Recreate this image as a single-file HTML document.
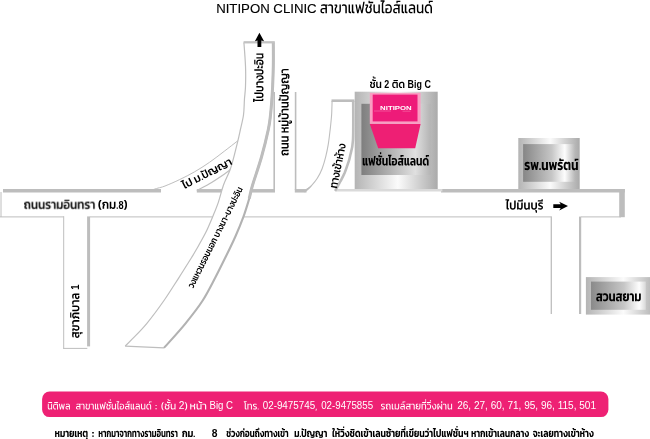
<!DOCTYPE html>
<html lang="th"><head><meta charset="utf-8"><title>NITIPON CLINIC สาขาแฟชั่นไอส์แลนด์</title>
<style>
html,body{margin:0;padding:0;background:#fff}
body{width:650px;height:439px;overflow:hidden}
svg{display:block;filter:blur(.35px)}
svg text{font-family:"Liberation Sans",sans-serif}
</style></head><body>
<svg width="650" height="439" viewBox="0 0 650 439">
<defs>
<linearGradient id="so" x1="0" x2="1" y1="0" y2="0"><stop offset="0" stop-color="#b4b4b4"/><stop offset=".52" stop-color="#fbfbfb"/><stop offset="1" stop-color="#aaaaaa"/></linearGradient>
<linearGradient id="si" x1="0" x2="1" y1="0" y2="0"><stop offset="0" stop-color="#7e7e7e"/><stop offset=".78" stop-color="#e0e0e0"/><stop offset="1" stop-color="#b4b4b4"/></linearGradient>
<linearGradient id="si2" x1="0" x2="1" y1="0" y2="0"><stop offset="0" stop-color="#868686"/><stop offset=".55" stop-color="#c6c6c6"/><stop offset=".8" stop-color="#fdfdfd"/><stop offset="1" stop-color="#b6b6b6"/></linearGradient>
<linearGradient id="si3" x1="0" x2="1" y1="0" y2="0"><stop offset="0" stop-color="#8a8a8a"/><stop offset=".6" stop-color="#c6c6c6"/><stop offset=".88" stop-color="#fdfdfd"/><stop offset="1" stop-color="#d8d8d8"/></linearGradient>

<path id="g0" d="M46 2C39 2 33 1 27-1C22-3 17-7 14-12C11-17 9-23 9-31C9-42 13-50 20-56C27-61 37-64 51-64L84-64L84-71C84-79 82-85 78-88C74-91 67-92 56-92C50-92 44-92 38-91C32-90 27-89 21-87L21-104C26-106 32-107 39-108C46-109 53-110 60-110C63-110 67-110 70-110C73-109 76-109 79-108L115-108L114-91L101-91C103-88 104-85 105-81C105-77 106-73 106-69L106 0L84 0L84-48L52-48C45-48 40-46 36-44C32-41 30-37 30-31C30-25 32-21 35-19C38-17 44-15 52-15C54-15 57-16 59-16C62-16 64-16 65-17L65 0C63 0 60 1 57 1C53 2 50 2 46 2Z"/><path id="g1" d="M53 0L53-68C53-73 53-78 52-82C50-85 48-88 45-90C41-92 37-92 30-92C26-92 21-92 16-91C11-90 7-89 3-87L3-104C7-106 11-107 17-108C23-109 28-110 34-110C49-110 59-107 66-101C72-94 75-84 75-71L75 0Z"/><path id="g2" d="M57 2C42 2 30-2 22-9C15-16 11-26 11-38L11-49C11-53 11-57 13-61C15-64 17-68 20-71C22-74 24-76 26-79C28-82 28-84 28-86C28-89 28-90 27-91C26-91 24-92 22-92L8-92L10-108L35-108C45-108 50-103 50-93C50-89 50-85 48-81C46-78 44-74 41-71C39-67 37-64 35-60C33-57 32-53 32-49L32-37C32-29 34-24 39-20C43-17 49-15 57-15C65-15 71-17 75-21C79-24 82-30 82-37L82-108L103-108L103-39C103-26 99-16 91-9C83-2 72 2 57 2Z"/><path id="g3" d="M82 0C75 0 70-2 66-5C63-9 61-14 61-21L61-108L83-108L83-26C83-20 86-17 92-17L100-17L100 0ZM34 0C26 0 21-2 18-5C14-9 13-14 13-21L13-108L34-108L34-26C34-20 37-17 43-17L51-17L51 0Z"/><path id="g4" d="M32 0L7-108L28-108L44-31L64-93L64-108L80-108L101-31L123-140L144-140L113 0L93 0L73-69L52 0Z"/><path id="g5" d="M57 2C42 2 30-2 22-9C15-16 11-26 11-38L11-49C11-53 12-57 14-61C15-64 17-68 20-71C22-74 24-76 26-79C28-82 29-84 29-86C29-89 28-90 27-91C26-91 25-92 22-92L8-92L10-108L35-108C46-108 51-103 51-93C51-89 50-85 48-81C46-78 44-74 42-71C39-67 37-64 35-60C33-57 32-53 32-49L32-37C32-29 35-24 39-20C43-17 49-15 57-15C65-15 71-17 75-21C80-24 82-30 82-37L82-50C82-57 81-61 79-64C77-66 73-67 68-67L62-67L63-83L67-83C73-83 76-84 79-87C81-90 82-94 82-100L82-110L104-110L104-100C104-94 103-89 101-85C99-81 95-77 89-75C95-73 99-69 101-65C103-61 104-56 104-50L104-39C104-26 99-16 91-9C83-2 72 2 57 2Z"/><path id="g6" d="M-60-124L-60-154L-42-154L-42-140L10-140L9-124Z"/><path id="g7" d="M-31-165L-31-193L-13-193L-13-165Z"/><path id="g8" d="M49 2C38 2 29-1 22-8C16-15 13-25 13-37L13-108L34-108L34-38C34-30 36-24 40-21C43-17 49-15 57-15C62-15 68-17 73-19C79-22 83-25 87-28L87-108L108-108L108 0L88 0L87-12C82-8 77-4 71-2C65 1 57 2 49 2Z"/><path id="g9" d="M37 0C29 0 24-2 21-5C17-9 16-14 16-21L16-110C16-118 17-124 20-129C23-135 26-139 31-142L-2-142L-2-159L57-159L57-142C50-139 45-135 42-130C39-124 37-116 37-107L37-26C37-23 38-20 39-19C40-18 43-17 46-17L55-17L55 0Z"/><path id="g10" d="M53 2C44 2 36 1 29 0C21-2 15-4 10-6L10-62L53-62L54-45L31-45L31-19C34-18 38-17 42-16C45-16 49-15 53-15C65-15 73-18 78-24C83-30 85-39 85-54C85-63 84-71 82-77C79-83 75-87 70-89C64-91 57-92 47-92C42-92 36-92 29-91C23-90 17-89 12-87L12-104C17-106 24-107 31-108C38-109 45-110 53-110C72-110 85-105 94-96C102-86 106-72 106-54C106-35 102-22 94-12C85-3 72 2 53 2Z"/><path id="g11" d="M-60-124L-60-154L-1-154L-2-138L-42-138L-42-124Z"/><path id="g12" d="M46 2C39 2 33 1 28-1C22-3 18-7 14-12C11-17 9-23 9-31C9-42 13-50 20-56C27-61 37-64 51-64L84-64L84-71C84-79 82-85 78-88C74-91 67-92 56-92C50-92 44-92 38-91C32-90 27-89 21-87L21-104C26-106 32-107 39-108C46-109 53-110 60-110C76-110 87-107 95-100C102-94 106-83 106-69L106 0L84 0L84-48L53-48C45-48 40-46 36-44C32-41 30-37 30-31C30-25 32-21 35-19C38-17 44-15 52-15C57-15 62-16 66-17L66 0C63 0 60 1 57 1C53 2 50 2 46 2Z"/><path id="g13" d="M53 2C44 2 37 0 30-4C24-7 18-13 14-21C11-29 9-40 9-52C9-70 13-85 22-95C32-105 45-110 64-110C76-110 86-108 94-104C101-100 107-94 110-87C114-81 116-74 116-66L116 0L94 0L94-65C94-70 93-75 91-79C89-83 86-87 82-89C77-91 71-92 63-92C52-92 43-89 38-82C32-75 30-65 30-52C30-39 32-29 37-24C41-18 48-15 57-15C59-15 62-16 64-16C67-16 69-16 70-17L70 0C68 0 66 1 63 1C60 2 57 2 53 2Z"/><path id="g14" d="M33 0C27 0 22-2 18-6C14-10 12-15 12-21L12-34C12-41 13-46 16-51C18-55 22-59 28-61L7-66L7-92C13-96 20-101 29-104C38-108 49-110 61-110C71-110 81-109 88-106C96-103 102-98 106-92C110-85 112-76 112-65L112 0L85 0L85-66C85-74 83-80 79-84C75-87 69-89 59-89C53-89 48-88 43-86C38-85 34-82 31-80L31-77L53-71L53-55C47-53 44-51 42-48C40-45 39-40 39-34L39-28C39-26 40-24 41-23C42-22 44-21 47-21L57-21L57 0Z"/><path id="g15" d="M49 2C37 2 28-2 21-8C15-16 11-25 11-38L11-108L38-108L38-39C38-32 40-27 43-24C47-21 51-19 58-19C63-19 68-20 73-22C77-24 81-27 84-30L84-108L111-108L111 0L86 0L85-11C80-7 75-4 69-1C63 1 56 2 49 2Z"/><path id="g16" d="M48 2C40 2 33 1 26 0C19-1 14-2 10-4L10-26C15-23 20-22 26-21C32-20 38-19 43-19C51-19 58-20 62-21C66-22 68-25 68-29C68-32 67-35 64-37C62-38 59-40 55-41C51-43 45-45 39-47C29-50 21-54 16-58C10-63 7-69 7-78C7-87 11-95 19-101C26-107 37-110 52-110C59-110 65-110 71-109C77-108 83-107 87-105L87-84C82-85 77-87 72-88C66-89 61-89 56-89C50-89 44-88 40-87C35-85 33-83 33-78C33-76 34-74 36-72C39-70 42-69 46-68C51-66 56-65 62-62C69-60 76-57 80-54C85-52 88-48 90-44C92-40 93-35 93-29C93-19 89-11 81-6C73-1 62 2 48 2Z"/><path id="g17" d="M50 0L50-66C50-74 48-79 45-83C43-87 37-89 29-89C24-89 20-88 15-88C10-86 5-85 1-84L1-104C5-105 10-107 16-108C22-109 28-110 34-110C49-110 60-107 67-100C73-94 77-84 77-70L77 0Z"/><path id="g18" d="M74 2C66 2 60 1 54-1C48-4 42-7 37-11L36 0L11 0L11-108L38-108L38-30C41-27 45-24 50-22C55-20 60-19 65-19C71-19 76-21 79-24C83-27 84-32 84-39L84-108L111-108L111-38C111-25 108-16 101-8C95-2 85 2 74 2Z"/><path id="g19" d="M52 2C43 2 35 1 27 0C19-2 13-4 7-6L7-63L53-63L54-43L33-43L33-22C36-21 39-20 42-20C46-19 49-19 52-19C63-19 71-22 75-27C80-32 82-41 82-54C82-63 81-70 78-75C76-80 72-84 67-86C62-88 54-89 45-89C40-89 33-89 27-88C21-87 15-85 9-84L9-104C15-106 22-107 29-108C37-109 45-110 52-110C71-110 86-105 94-96C103-86 107-72 107-54C107-36 103-22 94-12C86-3 71 2 52 2Z"/><path id="g20" d="M-100-123L-98-141L-12-141L-12-123Z"/><path id="g21" d="M11 0L11-108L36-108L37-97C42-101 48-104 54-107C60-109 67-110 75-110C86-110 95-107 102-100C108-93 111-83 111-71L111 0L84 0L84-69C84-76 83-81 79-84C76-87 71-89 65-89C60-89 55-88 50-86C45-84 41-81 38-78L38 0Z"/><path id="g22" d="M34 14C28 9 22 2 19-6C15-14 12-23 10-32C8-42 7-51 7-61C7-70 8-79 10-89C12-98 15-107 19-115C22-123 28-130 34-136L64-136C54-126 46-115 42-102C37-90 35-76 35-61C35-45 37-31 42-19C46-6 54 5 64 14Z"/><path id="g23" d="M12 0L12-34C12-41 13-46 16-51C18-55 22-59 28-61L7-66L7-92C13-96 20-101 29-104C38-108 49-110 61-110C71-110 81-109 88-106C96-103 102-98 106-92C110-85 112-76 112-65L112 0L85 0L85-66C85-74 83-80 79-84C75-87 69-89 59-89C53-89 48-88 43-86C38-85 34-82 31-80L31-77L53-71L53-55C47-53 44-51 42-48C40-45 39-40 39-34L39 0Z"/><path id="g24" d="M7 0L7-20L29-20L29 0Z"/><path id="g25" d="M3 14C14 5 22-6 26-19C31-31 33-45 33-61C33-76 31-90 26-102C22-115 14-126 3-136L34-136C40-130 45-123 49-115C53-107 56-98 58-89C60-79 60-70 60-61C60-51 60-42 58-32C56-23 53-14 49-6C45 2 40 9 34 14Z"/><path id="g26" d="M38 0C29 0 23-2 20-5C16-9 14-15 14-22L14-108C14-115 15-121 18-126C20-131 23-135 27-138L-4-138L-4-159L60-159L60-139C53-137 49-133 46-128C43-123 41-116 41-107L41-29C41-24 44-21 49-21L56-21L56 0Z"/><path id="g27" d="M63 2C47 2 34-2 25-9C16-17 11-28 11-43L11-108L38-108L38-43C38-27 47-19 63-19C79-19 87-27 87-43L87-140L114-140L114-43C114-28 110-17 100-9C91-2 79 2 63 2Z"/><path id="g28" d="M-100-123L-98-141L-34-141L-34-157L-12-157L-12-123Z"/><path id="g29" d="M63 2C47 2 34-2 25-9C16-17 11-28 11-43L11-108L38-108L38-43C38-27 47-19 63-19C79-19 87-27 87-43L87-108L114-108L114-43C114-28 110-17 100-9C91-2 79 2 63 2Z"/><path id="g30" d="M-35 51L-35 27L-47 27L-46 10L-13 10L-13 51Z"/><path id="g31" d="M58 2C42 2 30-2 22-9C13-17 9-27 9-40L9-47C9-51 10-55 12-59C14-62 16-66 18-68C20-71 22-74 24-76C26-79 26-81 26-83C26-85 26-86 25-87C24-88 22-88 20-88L7-88L9-108L37-108C48-108 54-103 54-93C54-88 53-84 51-80C49-77 47-73 45-70C43-66 41-63 39-59C37-56 36-51 36-47L36-38C36-25 44-19 58-19C73-19 80-26 80-39L80-52C80-57 79-60 77-62C76-65 73-66 68-66L63-66L64-84L67-84C72-84 75-86 77-88C79-90 80-94 80-99L80-110L107-110L107-99C107-93 106-88 104-84C102-80 99-77 93-75C99-72 102-69 104-65C106-61 107-56 107-51L107-40C107-27 103-17 94-9C85-2 73 2 58 2Z"/><path id="g32" d="M-64-123L-64-155L-42-155L-42-141L8-141L7-123Z"/><path id="g33" d="M-45-167L-45-182L-58-182L-58-199L-28-199L-28-184L2-184L1-167Z"/><path id="g34" d="M53 2C44 2 36 0 29-4C23-7 17-13 13-21C9-29 7-39 7-52C7-71 11-85 18-95C24-105 33-110 45-110C51-110 55-109 58-107C61-105 64-103 66-100C69-103 73-105 77-107C82-109 87-110 92-110C101-110 108-107 113-101C117-96 119-88 119-79L119 0L92 0L92-75C92-79 92-83 90-85C89-88 87-89 83-89C81-89 79-88 77-87C75-85 73-83 73-80L60-80C58-83 57-85 55-87C54-88 52-89 49-89C43-89 38-86 36-79C34-72 33-63 33-52C33-40 35-31 39-26C44-21 50-19 57-19C60-19 62-19 65-19C67-20 69-20 71-21L71-1C69 0 66 1 63 1C60 2 57 2 53 2Z"/><path id="g35" d="M53 2C44 2 36 0 29-4C23-7 17-13 13-21C9-29 7-39 7-52C7-70 12-85 22-95C31-105 45-110 64-110C77-110 87-108 95-104C103-99 109-94 113-87C116-80 118-73 118-65L118 0L91 0L91-63C91-68 90-73 89-77C87-81 84-84 80-86C76-88 71-89 63-89C43-89 33-77 33-52C33-40 35-31 39-26C44-21 50-19 57-19C60-19 62-19 65-19C67-20 69-20 71-21L71-1C69 0 66 1 63 1C60 2 57 2 53 2Z"/><path id="g36" d="M86 0C79 0 73-2 70-6C66-9 64-15 64-22L64-108L96-108L96-30C96-25 99-23 104-23L110-23L110 0ZM32 0C25 0 19-2 16-6C12-9 10-15 10-22L10-108L42-108L42-30C42-25 45-23 50-23L56-23L56 0Z"/><path id="g37" d="M28 0L4-108L34-108L45-44L61-89L61-108L83-108L102-44L117-140L147-140L119 0L91 0L74-57L55 0Z"/><path id="g38" d="M59 2C43 2 30-2 22-9C13-16 8-27 8-40L8-46C8-50 9-54 11-57C12-60 14-64 16-66C18-69 20-71 22-74C23-76 24-78 24-80C24-82 24-83 23-84C22-84 20-85 18-85L6-85L9-108L40-108C46-108 50-107 53-104C56-101 57-97 57-91C57-87 56-83 55-79C53-75 51-72 49-69C47-66 45-62 43-59C41-55 41-52 41-48L41-39C41-28 47-22 59-22C72-22 78-28 78-40L78-51C78-56 77-59 76-61C74-62 71-63 68-63L63-63L65-86L67-86C71-86 74-87 76-89C77-91 78-94 78-99L78-110L110-110L110-100C110-94 109-89 108-85C106-81 102-77 97-75C102-72 106-69 108-65C110-61 110-56 110-50L110-40C110-27 106-17 97-9C88-2 75 2 59 2Z"/><path id="g39" d="M-66-121L-66-155L-40-155L-40-142L8-142L7-121Z"/><path id="g40" d="M-36-167L-36-195L-10-195L-10-167Z"/><path id="g41" d="M48 2C36 2 27-1 20-8C14-15 10-25 10-37L10-108L42-108L42-40C42-34 44-29 47-26C49-24 54-22 59-22C64-22 68-23 72-25C76-27 79-29 82-32L82-108L114-108L114 0L84 0L83-9C78-6 73-3 67-1C62 1 55 2 48 2Z"/><path id="g42" d="M35 0C27 0 22-2 18-6C14-9 13-15 13-22L13-109C13-115 14-121 16-125C18-130 20-133 24-136L-4-136L-4-159L63-159L63-138C56-136 51-132 49-127C46-122 45-116 45-108L45-30C45-25 47-23 52-23L60-23L60 0Z"/><path id="g43" d="M55 2C46 2 37 1 29 0C20-2 13-4 8-7L8-64L56-64L57-42L39-42L39-24C42-24 44-23 47-23C49-22 52-22 55-22C64-22 71-25 75-29C79-34 80-42 80-53C80-62 79-68 77-73C75-78 71-81 66-83C61-85 55-86 47-86C41-86 35-85 28-84C22-83 15-82 9-80L9-103C16-106 23-107 31-108C39-109 47-110 54-110C75-110 89-105 99-96C108-86 112-72 112-53C112-35 108-22 99-12C90-3 75 2 55 2Z"/><path id="g44" d="M43 2C36 2 30 1 24-1C19-3 14-7 11-12C8-17 6-23 6-32C6-43 10-51 17-58C24-64 35-67 48-67L77-67L77-71C77-76 76-80 72-82C68-85 62-86 54-86C47-86 41-85 35-84C29-83 23-82 17-80L17-103C23-105 29-107 37-108C45-109 52-110 59-110C63-110 66-110 70-110C73-109 76-109 79-108L119-108L117-84L106-84C107-82 108-79 109-76C109-72 110-69 110-65L110 0L77 0L77-44L54-44C49-44 45-43 42-42C39-40 37-37 37-32C37-28 39-25 41-23C44-22 48-21 53-21C55-21 57-21 59-21C62-21 63-22 65-22L65-1C59 1 52 2 43 2Z"/><path id="g45" d="M-64-120L-64-153L-2-153L-3-132L-39-132L-39-120Z"/><path id="g46" d="M43 2C36 2 30 1 24-1C19-4 14-7 11-12C8-17 6-24 6-32C6-43 10-52 17-58C24-64 35-67 48-67L77-67L77-71C77-76 75-80 72-82C68-85 62-86 53-86C47-86 41-85 35-84C29-83 23-82 17-80L17-103C23-105 29-107 37-108C45-109 52-110 59-110C76-110 88-106 97-99C105-92 110-81 110-67L110 0L77 0L77-44L53-44C48-44 45-43 42-42C39-40 37-37 37-32C37-28 39-25 41-23C44-22 47-21 53-21C55-21 57-21 59-21C61-21 63-22 65-22L65-1C59 1 52 2 43 2Z"/><path id="g47" d="M52 2C43 2 35 0 28-3C21-7 16-13 12-20C8-28 6-38 6-51C6-70 11-84 21-95C31-105 45-110 65-110C78-110 89-108 97-104C105-99 111-94 115-87C119-80 121-73 121-65L121 0L88 0L88-63C88-70 87-75 83-80C80-84 74-86 64-86C55-86 49-83 45-77C40-72 38-63 38-51C38-40 40-33 43-29C47-24 52-22 59-22C61-22 64-22 66-23C68-23 70-23 72-24L72-1C69 0 67 0 63 1C60 2 56 2 52 2Z"/><path id="g48" d="M48 2C40 2 32 1 25 0C18-1 12-2 8-4L8-29C13-27 18-25 25-24C31-23 36-22 41-22C49-22 54-23 58-24C61-25 62-27 62-30C62-33 61-35 60-36C58-38 55-39 51-41C47-42 42-44 36-46C26-49 19-53 14-58C9-62 6-69 6-77C6-87 10-95 18-101C25-107 37-110 53-110C59-110 66-110 72-108C79-108 84-106 88-105L88-80C84-82 79-83 73-84C68-85 63-86 58-86C53-86 48-85 44-84C40-83 38-81 38-77C38-75 39-73 41-72C43-70 46-69 50-68C54-67 59-65 64-63C72-60 78-57 82-55C87-52 90-48 92-45C94-41 94-36 94-30C94-20 90-12 82-6C74-1 62 2 48 2Z"/><path id="g49" d="M28 0L4-108L34-108L45-44L61-89L61-108L83-108L102-44L113-108L142-108L119 0L91 0L74-57L55 0Z"/><path id="g50" d="M6 0L6-24L32-24L32 0Z"/><path id="g51" d="M52 2C43 2 35 0 28-3C21-7 16-13 12-20C8-28 6-38 6-51C6-70 10-85 16-95C23-105 32-110 44-110C50-110 54-109 58-107C61-105 64-103 67-100C70-103 73-105 78-107C83-109 88-110 93-110C103-110 110-107 114-101C119-95 121-88 121-79L121 0L89 0L89-73C89-77 88-80 87-83C86-85 84-86 81-86C76-86 73-83 72-78L60-78C59-81 58-82 56-84C55-85 53-86 51-86C48-86 45-84 43-81C41-78 40-74 39-69C39-63 38-58 38-51C38-40 40-33 43-29C47-24 52-22 59-22C61-22 64-22 66-23C68-23 70-23 72-24L72-1C69 0 67 0 63 1C60 2 56 2 52 2Z"/><path id="g52" d="M41 2C34 2 28 1 22 0C16-1 10-2 5-5L5-29C9-27 14-25 19-24C24-23 29-22 34-22C45-22 53-25 58-30C63-35 66-43 66-54C66-65 63-73 58-78C53-83 45-86 34-86C29-86 24-85 19-84C14-83 9-81 5-80L5-103C16-108 28-110 42-110C79-110 98-91 98-54C98-17 79 2 41 2Z"/><path id="g53" d="M60 2C49 2 40 1 32-2C24-4 17-8 13-13C8-18 6-25 6-34C6-38 7-43 9-46C11-50 14-53 18-56C15-58 12-61 10-64C8-68 6-73 6-78C6-88 10-96 17-102C24-107 33-110 44-110C48-110 52-110 56-109C59-109 62-108 64-107L64-84C60-85 56-86 51-86C47-86 44-85 42-84C40-82 38-80 38-77C38-73 40-70 42-69C44-68 48-67 52-67L63-67L64-45L52-45C43-45 38-41 38-34C38-30 40-27 43-25C46-23 52-22 59-22C74-22 81-28 81-40L81-108L114-108L114-42C114-27 109-16 100-8C90-2 77 2 60 2Z"/><path id="g54" d="M46 0L46-65C46-72 45-77 42-81C40-84 35-86 27-86C23-86 18-85 14-84C9-83 5-82 1-80L1-103C5-105 10-107 16-108C22-109 28-110 34-110C50-110 61-107 68-100C75-93 79-82 79-69L79 0Z"/><path id="g55" d="M76 2C69 2 63 1 57-1C51-3 46-6 41-9L40 0L10 0L10-108L42-108L42-32C45-29 48-27 52-25C56-23 61-22 65-22C71-22 75-24 78-26C80-29 82-34 82-40L82-108L114-108L114-37C114-25 111-15 104-8C97-1 88 2 76 2Z"/><path id="g56" d="M52 2C48 2 45 2 40 1C36 1 33 0 30-1L-1-75L26-75L49-17C59-17 67-21 71-27C76-34 78-44 78-57C78-65 77-72 76-76C74-81 71-84 68-86C65-88 60-89 54-89L45-89L45-108L57-108C73-108 85-104 92-96C100-87 103-74 103-57C103-43 101-32 97-23C92-15 86-8 79-4C71 0 62 2 52 2Z"/><path id="g57" d="M7-64L7-94L30-94L30-84L58-84L57-64ZM7-11L7-40L30-40L30-31L58-31L57-11Z"/><path id="g58" d="M11 0L11-108L38-108L38-75L65-75C72-75 77-77 80-80C82-83 83-87 83-93L83-108L110-108L110-94C110-88 109-82 107-77C105-72 101-68 95-66C101-63 104-60 106-56C109-51 110-46 110-40L110 0L83 0L83-37C83-44 81-49 79-51C76-54 71-55 65-55L38-55L38 0Z"/><path id="g59" d="M-39 53C-48 53-54 51-59 48C-63 45-66 41-66 36L-66 26L-77 26L-76 10L-47 10L-47 29C-47 34-44 36-39 36C-34 36-32 34-32 29L-32 10L-13 10L-13 31C-13 37-15 42-19 46C-23 51-30 53-39 53Z"/><path id="g60" d="M-40-123L-40-156L-13-156L-13-123Z"/><path id="g61" d="M-62-123L-62-141L-78-141L-78-159L-44-159L-44-141L-1-141L-2-123Z"/><path id="g62" d="M-113-123L-113-155L-91-155L-91-141L-52-141L-53-123Z"/><path id="g63" d="M134 14C128 14 121 14 113 12C106 11 99 9 93 6L93-15C97-13 101-12 106-10C111-9 116-8 121-8C125-7 130-7 133-7C141-7 148-7 153-9C158-11 161-13 161-16C161-19 160-21 157-22C155-20 151-19 147-18C143-17 138-16 132-16C117-16 104-20 96-27C87-35 83-46 83-61L83-66C83-74 81-80 77-84C73-87 67-89 59-89C53-89 48-88 43-86C38-85 34-82 31-80L31-77L53-71L53-55C47-53 44-51 42-48C40-45 39-40 39-34L39-28C39-26 40-24 41-23C42-22 44-21 47-21L57-21L57 0L33 0C27 0 22-2 18-6C14-10 12-15 12-21L12-34C12-41 13-46 16-51C18-55 22-59 28-61L7-66L7-92C13-96 20-101 29-104C38-108 49-110 61-110C71-110 79-109 87-106C94-103 99-98 103-92C107-85 109-76 109-65L109-61C109-53 111-47 115-43C118-39 124-37 132-37C141-37 146-39 150-43C154-47 156-53 156-61L156-108L183-108L183-61C183-50 180-40 175-33C177-31 179-28 181-25C182-22 183-18 183-14C183-5 179 2 170 7C161 12 149 14 134 14Z"/><path id="g64" d="M46 2C39 2 33 1 27-1C21-3 16-7 13-12C10-17 8-24 8-32C8-43 12-51 19-57C26-63 37-66 51-66L81-66L81-71C81-77 79-82 76-85C72-88 65-89 56-89C49-89 43-89 37-88C31-87 26-85 20-84L20-104C25-106 32-107 39-108C46-109 53-110 60-110C64-110 67-110 70-110C74-109 77-109 79-108L117-108L116-87L103-87C105-85 106-82 107-79C108-75 108-72 108-68L108 0L81 0L81-46L52-46C46-46 42-45 39-43C35-41 34-37 34-32C34-27 35-24 38-22C41-20 46-19 53-19C55-19 58-19 60-19C63-20 65-20 67-21L67-1C64 0 61 1 57 1C54 2 50 2 46 2Z"/><path id="g65" d="M58 2C41 2 29-2 21-9C13-17 9-27 9-40L9-47C9-51 10-55 12-59C13-62 15-66 18-68C20-71 22-74 23-76C25-79 26-81 26-83C26-85 26-86 25-87C24-88 22-88 20-88L7-88L9-108L37-108C48-108 53-103 53-93C53-88 53-84 51-80C49-77 47-73 45-70C42-66 40-63 39-59C37-56 36-51 36-47L36-38C36-25 43-19 58-19C72-19 80-26 80-39L80-108L107-108L107-40C107-27 102-17 94-9C85-2 73 2 58 2Z"/><path id="g66" d="M9 0L9-21L16-21C19-21 20-22 21-23C22-24 23-26 23-28L23-34C23-41 24-46 25-50C27-55 31-58 37-61L17-66L17-92C22-96 30-101 39-104C48-108 58-110 70-110C85-110 97-107 106-100C115-93 119-81 119-65L119 0L92 0L92-66C92-74 90-80 86-84C83-87 77-89 69-89C63-89 57-88 52-86C47-85 43-82 40-80L40-77L62-71L62-55C57-53 54-51 52-48C51-45 50-40 50-34L50-27C50-17 48-10 43-6C39-2 32 0 24 0Z"/><path id="g67" d="M46 2C39 2 33 1 27-1C21-3 16-7 13-12C10-17 8-24 8-32C8-43 12-51 19-57C26-63 37-66 51-66L81-66L81-71C81-77 79-82 76-85C72-88 65-89 56-89C49-89 43-89 37-88C31-87 26-85 20-84L20-104C25-106 32-107 39-108C46-109 53-110 60-110C76-110 88-107 96-100C104-93 108-82 108-68L108 0L81 0L81-46L52-46C46-46 42-45 39-43C35-41 34-37 34-32C34-27 35-24 38-22C41-20 46-19 53-19C55-19 58-19 60-19C63-20 65-20 67-21L67-1C64 0 61 1 57 1C54 2 50 2 46 2Z"/><path id="g68" d="M36 0C27 0 21-2 17-5C14-9 12-15 12-22L12-108L39-108L39-29C39-24 42-21 47-21L54-21L54 0Z"/><path id="g69" d="M39 2C26 2 14 0 4-4L4-25C8-23 13-22 18-21C22-20 27-19 32-19C45-19 54-22 59-27C64-32 67-41 67-54C67-67 64-76 59-81C54-86 45-89 32-89C27-89 22-88 18-87C13-86 8-85 4-83L4-104C14-108 26-110 39-110C57-110 70-105 79-96C88-86 93-72 93-54C93-36 88-22 79-12C70-3 57 2 39 2Z"/><path id="g70" d="M87 0C78 0 72-2 68-5C65-9 63-15 63-22L63-108L90-108L90-29C90-24 93-21 98-21L105-21L105 0ZM36 0C27 0 21-2 17-5C14-9 12-15 12-22L12-108L39-108L39-29C39-24 42-21 47-21L54-21L54 0Z"/><path id="g71" d="M7-44L7-65L85-65L85-44Z"/><path id="g72" d="M-96-124L-95-140L-13-140L-13-124Z"/><path id="g73" d="M53 2C44 2 37 0 30-4C24-7 18-13 14-21C11-29 9-40 9-52C9-71 12-85 18-95C24-105 33-110 44-110C50-110 54-109 57-107C61-105 63-103 66-100C69-103 72-105 77-107C81-109 86-110 91-110C99-110 106-107 110-102C114-97 116-90 116-81L116 0L95 0L95-78C95-83 94-87 92-89C91-91 88-92 84-92C81-92 79-92 77-90C74-89 73-86 72-83L60-83C58-86 56-89 55-90C53-92 50-92 47-92C40-92 36-89 33-81C31-74 30-64 30-52C30-39 32-29 37-24C41-18 48-15 57-15C59-15 62-16 64-16C67-16 69-16 70-17L70 0C68 0 66 1 63 1C60 2 57 2 53 2Z"/><path id="g74" d="M32 0L7-108L28-108L44-31L64-93L64-108L80-108L101-31L117-108L138-108L113 0L93 0L73-69L52 0Z"/><path id="g75" d="M9-65L9-82L27-82L27-65ZM9-5L9-22L27-22L27-5Z"/><path id="g76" d="M36 14C29 9 24 2 20-7C16-15 13-23 11-33C9-42 9-51 9-61C9-70 9-79 11-88C13-98 16-106 20-114C24-123 29-130 36-136L60-136C50-126 42-115 38-103C33-90 31-76 31-61C31-45 33-31 38-18C42-6 50 5 60 14Z"/><path id="g77" d="M-43-167L-43-182L-56-182L-56-196L-29-196L-29-181L2-181L1-167Z"/><path id="g78" d="M5 14C15 5 23-6 27-18C32-31 34-45 34-61C34-76 32-90 27-103C23-115 15-126 5-136L29-136C36-130 41-123 45-114C49-106 52-98 54-88C55-79 56-70 56-61C56-51 55-42 54-33C52-23 49-15 45-7C41 2 36 9 29 14Z"/><path id="g79" d="M13 0L13-108L34-108L34-74L66-74C73-74 79-76 82-79C85-82 86-87 86-94L86-108L108-108L108-95C108-88 107-82 104-77C102-72 98-68 92-66C98-64 102-60 104-56C106-51 107-46 107-40L107 0L85 0L85-37C85-45 84-50 81-53C78-56 73-57 65-57L34-57L34 0Z"/><path id="g80" d="M-59-124L-59-143L-74-143L-74-158L-44-158L-44-140L0-140L-1-124Z"/><path id="g81" d="M41 0C33 0 27-2 24-7C22-11 20-18 20-25L20-112C20-121 19-128 15-132C12-136 7-140 0-142L0-159L61-159L61-142L27-142C32-139 36-135 38-130C41-125 42-119 42-110L42-26C42-23 42-20 44-19C45-18 47-17 51-17L60-17L60 0Z"/><path id="g82" d="M13 0L13-108L32-108L34-96C39-100 44-104 50-106C57-109 64-110 72-110C83-110 92-107 99-100C105-93 108-83 108-71L108 0L87 0L87-70C87-78 85-84 81-87C77-91 72-92 64-92C58-92 53-91 47-89C42-86 38-83 34-79L34 0Z"/><path id="g83" d="M48 2C41 2 34 2 28 1C21 0 15-2 11-3L11-22C16-20 22-18 28-17C34-16 39-15 44-15C53-15 60-16 64-18C69-20 71-23 71-28C71-32 70-35 68-37C65-39 62-41 58-42C53-44 48-46 41-48C35-50 30-52 25-55C20-58 16-61 13-65C10-68 9-73 9-79C9-89 12-96 19-102C27-107 37-110 52-110C58-110 64-110 70-109C76-108 81-107 85-105L85-87C81-89 76-90 70-91C65-92 60-92 55-92C47-92 41-92 37-90C32-88 30-85 30-80C30-76 31-74 33-72C36-70 39-68 44-67C48-65 53-63 60-61C67-59 73-56 77-54C82-51 86-48 88-44C91-40 92-35 92-28C92-18 88-10 80-5C72 0 61 2 48 2Z"/><path id="g84" d="M9 0L9-17L27-17L27 0Z"/><path id="g85" d="M9 24L15-14L34-14L24 24Z"/><path id="g86" d="M34 0C28 0 23-2 20-6C16-9 14-14 14-20L14-39C14-45 16-50 18-54C20-59 24-62 30-64L9-69L9-92C14-96 21-100 30-104C38-108 49-110 60-110C76-110 88-107 97-100C106-94 110-82 110-67L110 0L88 0L88-68C88-77 86-83 82-87C77-91 70-92 60-92C53-92 47-91 41-90C35-88 31-85 27-82L27-79L50-73L50-58C45-57 41-55 39-52C37-49 36-45 36-39L36-26C36-23 37-21 38-19C39-18 41-17 44-17L55-17L55 0Z"/><path id="g87" d="M34 0C27 0 21-2 18-5C15-9 13-14 13-21L13-108L35-108L35-26C35-20 38-17 43-17L53-17L53 0Z"/><path id="g88" d="M71 2C63 2 56 1 50-2C44-4 39-8 34-12L32 0L13 0L13-108L34-108L34-28C38-25 42-22 47-19C53-17 58-15 64-15C72-15 77-17 81-21C85-24 87-30 87-38L87-108L108-108L108-37C108-25 105-15 98-8C92-1 83 2 71 2Z"/><path id="g89" d="M58 2C48 2 40 1 32-1C25-4 19-7 14-12C10-17 8-24 8-32C8-37 9-42 12-46C14-50 18-54 23-56C19-58 15-61 13-64C10-68 9-73 9-79C9-89 12-97 18-102C24-107 33-110 42-110C46-110 50-110 52-109C55-109 58-108 60-107L60-91C56-92 52-92 46-92C41-92 37-91 34-89C31-87 30-84 30-79C30-74 31-70 35-68C38-66 43-65 48-65L60-65L61-48L48-48C35-48 29-43 29-32C29-26 31-22 36-20C40-17 47-15 57-15C76-15 85-23 85-38L85-108L107-108L107-41C107-26 103-16 94-9C86-2 74 2 58 2Z"/><path id="g90" d="M-96-124L-95-140L-31-140L-31-156L-13-156L-13-124Z"/><path id="g91" d="M39 2C27 2 16 0 7-4L7-21C11-19 15-18 20-17C25-16 30-15 34-15C43-15 50-17 56-19C61-22 65-26 67-32C70-37 71-45 71-54C71-68 68-78 62-84C57-89 47-92 34-92C29-92 25-92 20-91C15-90 11-88 7-87L7-104C12-106 16-107 22-108C27-109 33-110 39-110C57-110 70-105 79-96C87-86 92-72 92-54C92-36 88-22 79-12C71-3 58 2 39 2Z"/><path id="g92" d="M55 2C52 2 49 2 45 1C41 1 38 0 35-1L5-75L26-75L50-15C62-14 70-17 75-24C81-32 83-43 83-57C83-66 82-73 81-78C79-83 77-86 73-88C69-91 64-92 57-92L49-92L49-108L60-108C75-108 87-104 94-96C101-87 104-75 104-58C104-43 102-32 98-23C94-15 88-8 80-4C73 0 64 2 55 2Z"/><path id="g93" d="M13 0L13-88C13-94 14-98 18-102C21-106 25-108 32-108L52-108L53-91L43-91C39-91 37-90 36-89C34-87 34-85 34-81L34-29L60-75L69-75L95-29L95-108L116-108L116 0L95 0L64-53L34 0Z"/><path id="g94" d="M-35-125L-35-157L-13-157L-13-125Z"/><path id="g95" d="M10 0L10-108L42-108L42-77L65-77C71-77 75-78 77-81C79-84 80-88 80-93L80-108L113-108L113-92C113-86 112-81 110-76C108-71 104-67 99-65C104-63 107-60 109-55C111-51 112-46 112-41L112 0L80 0L80-36C80-42 79-46 76-49C74-51 70-52 64-52L42-52L42 0Z"/><path id="g96" d="M33 0C25 0 20-2 16-6C12-9 10-15 10-22L10-108L43-108L43-30C43-25 45-23 50-23L57-23L57 0Z"/><path id="g97" d="M-38 51L-38 29L-50 29L-48 9L-11 9L-11 51Z"/><path id="g98" d="M6-64L6-88L32-88L32-64ZM6-4L6-28L32-28L32-4Z"/><path id="g99" d="M10 0L10-34C10-40 11-45 14-50C16-54 20-57 25-59L6-65L6-92C12-96 19-100 29-104C38-108 49-110 61-110C79-110 92-106 101-99C110-92 115-80 115-65L115 0L82 0L82-65C82-72 81-78 77-81C73-84 67-86 59-86C54-86 49-85 44-84C40-82 36-80 34-78L34-76L55-70L55-53C51-51 47-49 45-46C44-44 43-39 43-34L43 0Z"/><path id="g100" d="M55 2C52 2 48 2 44 1C39 0 36 0 34-1L20-38L5-38L6-62L39-62L54-22C61-22 66-25 70-30C74-36 75-44 75-55C75-63 74-69 72-73C70-78 67-81 62-83C57-85 50-86 42-86C37-86 31-85 25-84C19-83 13-82 7-81L7-103C13-105 20-107 28-108C35-109 43-110 50-110C71-110 86-105 94-96C103-86 107-73 107-55C107-42 105-32 100-24C95-15 89-9 81-4C73 0 64 2 55 2Z"/><path id="g101" d="M10 0L10-108L40-108L41-98C46-102 51-105 57-107C63-109 70-110 77-110C89-110 98-107 104-100C111-93 114-84 114-71L114 0L82 0L82-69C82-75 80-79 78-82C75-84 71-86 65-86C61-86 56-85 52-83C48-81 45-79 42-76L42 0Z"/><path id="g102" d="M56 2C52 2 48 2 44 1C39 1 35 0 32-1L2-74L34-74L55-21C71-22 79-34 79-57C79-67 77-74 74-78C70-82 65-84 57-84L49-84L49-108L62-108C94-108 111-91 111-57C111-43 108-32 104-23C99-15 93-8 84-4C76 0 67 2 56 2Z"/><path id="g103" d="M-102-121L-101-143L-11-143L-11-121Z"/><path id="g104" d="M-43-119L-43-153L-10-153L-10-119Z"/><path id="g105" d="M31 0C25 0 20-2 16-6C12-10 10-15 10-21L10-34C10-40 11-45 14-50C16-54 20-57 25-59L6-65L6-92C12-96 19-100 29-104C38-108 49-110 61-110C79-110 92-106 101-99C110-92 115-80 115-65L115 0L82 0L82-65C82-72 81-78 77-81C73-84 67-86 59-86C54-86 49-85 44-84C40-82 36-80 34-78L34-76L55-70L55-53C51-51 47-49 45-47C44-44 43-40 43-35L43-29C43-25 45-23 49-23L59-23L59 0Z"/><path id="g106" d="M-102-121L-101-143L-51-143C-50-148-48-152-45-156C-42-160-36-162-29-162C-22-162-17-160-14-156C-10-152-9-147-9-142C-9-136-10-131-14-127C-18-123-24-121-31-121ZM-29-134C-27-134-25-134-24-136C-22-137-21-139-21-141C-21-144-22-146-24-147C-25-149-27-149-29-149C-32-149-33-149-35-147C-37-146-37-144-37-141C-37-139-37-137-35-136C-33-134-32-134-29-134Z"/><path id="g107" d="M59 2C43 2 30-2 21-9C13-16 8-27 8-40L8-46C8-50 9-54 11-57C12-60 14-64 16-66C18-69 20-71 21-74C23-76 24-78 24-80C24-82 23-83 22-84C21-84 20-85 18-85L6-85L8-108L40-108C46-108 50-107 53-104C56-101 57-97 57-91C57-87 56-83 55-79C53-75 51-72 49-69C47-66 45-62 43-59C41-55 40-52 40-48L40-39C40-28 47-22 59-22C72-22 78-28 78-40L78-108L110-108L110-40C110-27 106-17 96-9C87-2 75 2 59 2Z"/><path id="g108" d="M-62-120L-62-137L-78-137L-78-159L-41-159L-41-141L1-141L0-120Z"/><path id="g109" d="M64 2C47 2 34-2 25-10C15-17 10-29 10-45L10-108L42-108L42-44C42-36 44-31 48-27C51-24 56-22 64-22C71-22 76-24 79-27C83-31 85-36 85-44L85-140L117-140L117-45C117-29 112-17 102-10C93-2 80 2 64 2Z"/><path id="g110" d="M-116-121L-116-155L-91-155L-91-142L-54-142L-55-121Z"/><path id="g111" d="M134 16C130 16 125 16 120 15C115 15 111 14 106 12C101 11 96 10 93 8L93-15C97-13 101-12 106-10C111-9 116-8 121-8C125-7 130-7 133-7C142-7 149-7 152-9C156-11 158-13 158-16C158-19 157-20 156-22C149-19 141-18 132-18C115-18 103-22 94-28C84-36 80-47 80-63L80-65C80-72 78-78 75-81C72-84 66-86 58-86C53-86 48-85 44-84C40-82 36-80 34-78L34-76L55-70L55-53C51-51 47-49 45-47C44-44 43-40 43-35L43-29C43-25 45-23 49-23L59-23L59 0L31 0C25 0 20-2 16-6C12-10 10-15 10-21L10-34C10-40 11-45 14-50C16-54 20-57 25-59L6-65L6-92C12-96 19-100 28-104C37-108 48-110 60-110C77-110 90-106 99-99C107-92 112-80 112-65L112-62C112-54 113-49 116-46C120-44 125-42 132-42C139-42 144-44 147-47C150-51 152-56 152-64L152-108L184-108L184-65C184-52 181-42 175-34C177-32 179-29 181-26C182-22 183-18 183-14C183-4 179 4 170 9C161 14 149 16 134 16Z"/><path id="g112" d="M29 0C22 0 16-2 13-6C9-9 7-15 7-22L7-85C7-91 8-96 10-100C12-104 15-108 18-111C20-114 23-117 25-119C27-122 28-124 28-127C28-132 24-135 17-135C10-135 3-133-4-129L-4-151C0-154 5-156 11-157C17-159 23-159 29-159C39-159 47-157 53-153C58-149 61-143 61-135C61-130 60-125 58-121C56-117 53-114 50-110C47-107 45-103 43-99C41-95 39-90 39-85L39-30C39-25 42-23 47-23L54-23L54 0Z"/><path id="g113" d="M59 2C43 2 31-1 22-8C13-15 9-24 9-37L9-41C9-45 10-49 12-54C15-58 17-61 20-65C23-68 26-72 28-74C31-77 32-80 32-82C32-84 31-85 29-85C27-85 25-85 24-83L24-75L6-75L6-108L26-108L26-102C28-104 30-105 33-106C36-107 39-108 43-108C49-108 53-106 56-103C59-100 60-96 60-91C60-85 59-81 58-76C56-72 53-68 51-65C48-62 46-58 44-55C42-51 41-48 41-44L41-39C41-28 47-22 59-22C72-22 78-28 78-40L78-51C78-56 78-59 76-61C74-62 71-63 68-63L63-63L65-86L67-86C71-86 74-87 76-89C77-91 78-94 78-99L78-110L111-110L111-100C111-94 110-89 108-85C106-81 102-77 97-75C103-72 106-69 108-65C110-61 111-56 111-50L111-40C111-27 106-17 97-9C88-2 75 2 59 2Z"/><path id="g114" d="M-102-121L-101-143L-37-143L-37-158L-11-158L-11-121Z"/><path id="g115" d="M77 0L77-47C74-45 70-44 65-43C61-41 56-41 51-41C38-41 28-44 20-50C12-56 8-65 8-78C8-84 9-89 10-94C12-99 14-104 17-108L48-108C43-99 40-90 40-82C40-76 42-71 45-69C48-66 52-64 58-64C62-64 66-65 68-66C72-67 74-68 77-70L77-108L109-108L109 0Z"/><path id="g116" d="M6-62L6-95L32-95L32-85L59-85L58-62ZM6-10L6-42L32-42L32-32L59-32L58-10Z"/>
</defs>
<rect width="650" height="439" fill="#fff"/>
<g id="map">
<rect x="354.7" y="91.7" width="83.0" height="97.6" fill="url(#so)"/>
<rect x="361.4" y="103.8" width="69.2" height="71.2" fill="url(#si)"/>
<polygon points="369.8,123.9 420.6,123.9 415.2,148.2 378.2,148.2" fill="#ee1f74"/>
<rect x="369.8" y="92.8" width="50.8" height="31.1" fill="#f99dc2"/>
<rect x="372.7" y="94.6" width="44.8" height="26.8" fill="#ee1b79"/>
<rect x="518.3" y="138.0" width="61.4" height="51.5" fill="url(#so)"/>
<rect x="523.1" y="144.1" width="52.1" height="37.7" fill="url(#si2)"/>
<rect x="585.9" y="277.1" width="72.0" height="37.5" fill="url(#so)"/>
<rect x="591.0" y="281.6" width="54.8" height="28.2" fill="url(#si3)"/>
<line x1="3.0" y1="190.8" x2="161.0" y2="190.8" stroke="#bdbdbd" stroke-width="3.5"/>
<line x1="196.8" y1="190.8" x2="226.0" y2="190.8" stroke="#bdbdbd" stroke-width="3.5"/>
<line x1="250.0" y1="190.8" x2="275.0" y2="190.8" stroke="#bdbdbd" stroke-width="3.5"/>
<line x1="294.8" y1="190.8" x2="306.5" y2="190.8" stroke="#bdbdbd" stroke-width="3.5"/>
<line x1="441.0" y1="190.8" x2="624.8" y2="190.8" stroke="#bdbdbd" stroke-width="3.5"/>
<line x1="335.0" y1="190.3" x2="442.4" y2="190.3" stroke="#dadada" stroke-width="2.4"/>
<line x1="622.0" y1="189.0" x2="622.0" y2="217.2" stroke="#bdbdbd" stroke-width="5.6"/>
<line x1="0.0" y1="216.9" x2="63.7" y2="216.9" stroke="#bebebe" stroke-width="1.0"/>
<line x1="89.8" y1="216.9" x2="216.0" y2="216.9" stroke="#bebebe" stroke-width="1.0"/>
<line x1="241.0" y1="216.9" x2="551.5" y2="216.9" stroke="#bebebe" stroke-width="1.0"/>
<line x1="580.8" y1="216.9" x2="621.0" y2="216.9" stroke="#bebebe" stroke-width="1.0"/>
<line x1="1.0" y1="192.0" x2="1.0" y2="217.0" stroke="#bebebe" stroke-width="1.0"/>
<line x1="63.7" y1="216.2" x2="63.7" y2="348.8" stroke="#bebebe" stroke-width="1.0"/>
<line x1="88.6" y1="216.4" x2="88.6" y2="346.4" stroke="#bdbdbd" stroke-width="3.0"/>
<line x1="63.2" y1="348.4" x2="87.3" y2="348.4" stroke="#bebebe" stroke-width="1.0"/>
<line x1="551.3" y1="216.6" x2="551.3" y2="314.0" stroke="#bebebe" stroke-width="1.3"/>
<line x1="580.1" y1="216.6" x2="580.1" y2="314.0" stroke="#bdbdbd" stroke-width="2.2"/>
<line x1="274.2" y1="92.0" x2="274.2" y2="190.0" stroke="#bdbdbd" stroke-width="1.6"/>
<line x1="295.6" y1="92.0" x2="295.6" y2="190.0" stroke="#bdbdbd" stroke-width="1.6"/>
<path d="M305.7 190.4C306.7 189.5 310.0 187.1 311.9 185.1C313.8 183.1 315.6 181.0 317.3 178.3C319.0 175.6 320.7 172.3 322.1 168.7C323.5 165.0 324.8 160.5 325.8 156.4C326.8 152.3 327.5 148.9 328.3 144.1C329.1 139.3 329.8 132.4 330.4 127.6C330.9 122.8 331.3 119.4 331.6 115.0C331.9 110.6 332.0 103.3 332.1 101.0 L353.2 101 L353.2 101.0C353.2 107.5 353.5 130.8 353.0 140.0C352.5 149.2 350.8 152.5 350.0 156.4C349.2 160.3 349.0 160.5 348.1 163.2C347.2 165.9 345.9 169.8 344.7 172.8C343.4 175.8 342.2 178.0 340.6 181.0C339.0 184.0 336.0 189.2 335.1 190.8 Z" fill="#fff"/>
<path d="M305.7 190.4C306.7 189.5 310.0 187.1 311.9 185.1C313.8 183.1 315.6 181.0 317.3 178.3C319.0 175.6 320.7 172.3 322.1 168.7C323.5 165.0 324.8 160.5 325.8 156.4C326.8 152.3 327.5 148.9 328.3 144.1C329.1 139.3 329.8 132.4 330.4 127.6C330.9 122.8 331.3 119.4 331.6 115.0C331.9 110.6 332.0 103.3 332.1 101.0" fill="none" stroke="#bebebe" stroke-width="1.1"/>
<path d="M304.5 192.4L305.7 189.2C308 188 310 186.6 312.4 184.4L311.4 186.6C309.5 189 307.5 191 304.5 192.4Z" fill="#bdbdbd"/>
<path d="M331.5 100.7 L354.5 100.7" fill="none" stroke="#bdbdbd" stroke-width="2.6"/>
<path d="M353.2 101.0C353.2 107.5 353.5 130.8 353.0 140.0C352.5 149.2 350.8 152.5 350.0 156.4C349.2 160.3 349.0 160.5 348.1 163.2C347.2 165.9 345.9 169.8 344.7 172.8C343.4 175.8 342.2 178.0 340.6 181.0C339.0 184.0 336.0 189.2 335.1 190.8" fill="none" stroke="#bdbdbd" stroke-width="2.6"/>
<path d="M152.5 189.8C153.4 189.5 155.9 188.7 158.0 188.1C160.1 187.5 161.4 187.4 165.0 186.0C168.6 184.6 174.9 181.9 179.8 179.5C184.7 177.1 189.7 174.7 194.6 171.8C199.5 169.0 204.5 165.8 209.4 162.4C214.3 159.0 219.5 154.9 224.2 151.3C228.9 147.7 235.0 143.0 237.5 141.0C240.0 139.0 238.8 139.5 239.0 139.2" fill="none" stroke="#bebebe" stroke-width="1"/>
<path d="M196.8 190.5C198.9 189.4 204.8 186.5 209.4 183.8C214.0 181.1 220.8 176.5 224.2 174.2C227.6 171.9 229.1 170.5 230.1 169.8" fill="none" stroke="#bebebe" stroke-width="1.2"/>
<path d="M243.9 42.4C244.2 46.3 245.2 58.6 245.5 66.0C245.8 73.3 245.7 80.8 245.5 86.5C245.3 92.2 244.7 95.2 244.4 100.0C244.1 104.8 244.2 110.0 243.5 115.0C242.8 120.0 241.3 125.4 240.3 130.0C239.3 134.6 238.6 137.9 237.5 142.4C236.4 146.9 235.0 152.6 233.8 157.2C232.6 161.8 231.8 165.2 230.1 169.8C228.4 174.4 225.4 179.6 223.5 185.0C221.6 190.4 220.2 196.7 218.4 202.1C216.6 207.5 214.5 212.3 212.4 217.4C210.3 222.5 208.2 227.7 205.6 232.8C203.0 237.9 199.5 244.0 197.1 248.2C194.7 252.4 194.4 253.1 191.3 258.0C188.2 262.9 183.4 270.7 178.8 277.8C174.2 284.9 169.3 292.9 164.0 300.5C158.7 308.1 152.2 316.9 146.9 323.3C141.6 329.8 135.7 335.4 132.1 339.2C128.5 343.0 126.3 345.0 125.2 346.1 L164.0 347.9C167.6 343.8 179.2 331.2 185.6 323.3C192.0 315.4 197.8 308.1 202.7 300.5C207.6 292.9 211.2 285.4 215.2 277.8C219.2 270.2 223.2 261.9 226.6 255.0C230.0 248.1 232.7 242.5 235.5 236.2C238.3 229.9 240.9 223.7 243.2 217.4C245.5 211.2 247.6 204.1 249.2 198.7C250.8 193.3 250.5 191.9 252.6 185.0C254.7 178.1 258.9 166.2 261.5 157.0C264.1 147.8 266.8 136.6 268.3 129.6C269.8 122.6 269.8 121.2 270.5 115.0C271.2 108.8 271.8 100.9 272.3 92.7C272.8 84.5 273.1 74.4 273.3 66.0C273.5 57.6 273.3 46.3 273.3 42.4 Z" fill="#fff"/>
<path d="M243.9 42.4C244.2 46.3 245.2 58.6 245.5 66.0C245.8 73.3 245.7 80.8 245.5 86.5C245.3 92.2 244.7 95.2 244.4 100.0C244.1 104.8 244.2 110.0 243.5 115.0C242.8 120.0 241.3 125.4 240.3 130.0C239.3 134.6 238.6 137.9 237.5 142.4C236.4 146.9 235.0 152.6 233.8 157.2C232.6 161.8 231.8 165.2 230.1 169.8C228.4 174.4 225.4 179.6 223.5 185.0C221.6 190.4 220.2 196.7 218.4 202.1C216.6 207.5 214.5 212.3 212.4 217.4C210.3 222.5 208.2 227.7 205.6 232.8C203.0 237.9 199.5 244.0 197.1 248.2C194.7 252.4 194.4 253.1 191.3 258.0C188.2 262.9 183.4 270.7 178.8 277.8C174.2 284.9 169.3 292.9 164.0 300.5C158.7 308.1 152.2 316.9 146.9 323.3C141.6 329.8 135.7 335.4 132.1 339.2C128.5 343.0 126.3 345.0 125.2 346.1" fill="none" stroke="#bebebe" stroke-width="1.2"/>
<path d="M125.2 346.1L164 347.9" fill="none" stroke="#bebebe" stroke-width="1.2"/>
<path d="M273.3 42.4C273.3 46.3 273.5 57.6 273.3 66.0C273.1 74.4 272.8 84.5 272.3 92.7C271.8 100.9 271.2 108.8 270.5 115.0C269.8 121.2 269.8 122.6 268.3 129.6C266.8 136.6 264.1 147.8 261.5 157.0C258.9 166.2 254.7 178.1 252.6 185.0C250.5 191.9 250.8 193.3 249.2 198.7C247.6 204.1 245.5 211.2 243.2 217.4C240.9 223.7 238.3 229.9 235.5 236.2C232.7 242.5 230.0 248.1 226.6 255.0C223.2 261.9 219.2 270.2 215.2 277.8C211.2 285.4 207.6 292.9 202.7 300.5C197.8 308.1 192.0 315.4 185.6 323.3C179.2 331.2 167.6 343.8 164.0 347.9" fill="none" stroke="#b2b2b2" stroke-width="2.1"/>
<path d="M273.3 42.4C273.3 46.3 273.5 57.6 273.3 66.0C273.1 74.4 272.8 84.5 272.3 92.7C271.8 100.9 271.2 108.8 270.5 115.0C269.8 121.2 269.8 122.6 268.3 129.6C266.8 136.6 264.1 147.8 261.5 157.0C258.9 166.2 254.7 178.1 252.6 185.0C250.5 191.9 249.8 196.4 249.2 198.7" fill="none" stroke="#bdbdbd" stroke-width="3"/>
<path d="M243.6 42.3L274.8 42.3" fill="none" stroke="#c2c2c2" stroke-width="2.3"/>
<path d="M259.4 32.7L264.1 41.3L261.3 40.6L261.3 47L257.5 47L257.5 40.6L254.9 41.3Z" fill="#000"/>
<path d="M553.3 204.2L560.7 204.2L559.2 201.8L568 206.1L559.2 210.4L560.7 208L553.3 208Z" fill="#000"/>
</g>
<rect x="42.1" y="391.6" width="566.3" height="25.5" rx="7.5" fill="#ee2174"/>
<g id="labels" style="will-change:transform">
<g transform="translate(216.80 13.20)" fill="#000">
<title>NITIPON CLINIC</title>
<text x="-0.66" y="0.00" font-size="13.40" stroke="#000" stroke-width="0.15" textLength="100.52" lengthAdjust="spacingAndGlyphs">NITIPON CLINIC</text>
</g>
<g transform="translate(320.40 13.20)" fill="#000">
<title>สาขาแฟชั่นไอส์แลนด์</title>
<g transform="translate(-0.61 0) scale(0.06739 0.08100)">
<use href="#g0" x="0"/>
<use href="#g1" x="122"/>
<use href="#g2" x="210"/>
<use href="#g1" x="326"/>
<use href="#g3" x="414"/>
<use href="#g4" x="522"/>
<use href="#g5" x="667"/>
<use href="#g6" x="783"/>
<use href="#g7" x="787"/>
<use href="#g8" x="783"/>
<use href="#g9" x="904"/>
<use href="#g10" x="964"/>
<use href="#g0" x="1079"/>
<use href="#g11" x="1197"/>
<use href="#g3" x="1201"/>
<use href="#g12" x="1309"/>
<use href="#g8" x="1428"/>
<use href="#g13" x="1549"/>
<use href="#g11" x="1678"/>
</g>
</g>
<g transform="translate(24.20 208.80)" fill="#000">
<title>ถนนรามอินทรา (กม.8)</title>
<g transform="translate(-0.40 0) scale(0.05782 0.06500)">
<use href="#g14" x="0"/>
<use href="#g15" x="124"/>
<use href="#g15" x="248"/>
<use href="#g16" x="372"/>
<use href="#g17" x="473"/>
<use href="#g18" x="562"/>
<use href="#g19" x="686"/>
<use href="#g20" x="801"/>
<use href="#g15" x="801"/>
<use href="#g21" x="925"/>
<use href="#g16" x="1049"/>
<use href="#g17" x="1150"/>
<use href="#g22" x="1283"/>
<use href="#g23" x="1351"/>
<use href="#g18" x="1475"/>
<use href="#g24" x="1599"/>
</g>
<text x="94.19" y="0.00" font-size="10.40" font-weight="bold" textLength="5.14" lengthAdjust="spacingAndGlyphs">8</text>
<g transform="translate(99.33 0) scale(0.05782 0.06500)">
<use href="#g25" x="0"/>
</g>
</g>
<g transform="translate(505.50 209.50)" fill="#000">
<title>ไปมีนบุรี</title>
<g transform="translate(0.23 0) scale(0.05673 0.06500)">
<use href="#g26" x="0"/>
<use href="#g27" x="62"/>
<use href="#g18" x="189"/>
<use href="#g28" x="313"/>
<use href="#g15" x="313"/>
<use href="#g29" x="437"/>
<use href="#g30" x="564"/>
<use href="#g16" x="564"/>
<use href="#g28" x="665"/>
</g>
</g>
<g transform="translate(370.00 88.00)" fill="#000">
<title>ชั้น 2 ติด Big C</title>
<g transform="translate(-0.35 0) scale(0.05025 0.05750)">
<use href="#g31" x="0"/>
<use href="#g32" x="119"/>
<use href="#g33" x="119"/>
<use href="#g15" x="119"/>
</g>
<text x="14.37" y="0.00" font-size="10.20" font-weight="bold" textLength="4.96" lengthAdjust="spacingAndGlyphs">2</text>
<g transform="translate(21.84 0) scale(0.05025 0.05750)">
<use href="#g34" x="0"/>
<use href="#g20" x="132"/>
<use href="#g35" x="132"/>
</g>
<text x="37.57" y="0.00" font-size="10.20" font-weight="bold" textLength="23.27" lengthAdjust="spacingAndGlyphs">Big C</text>
</g>
<g transform="translate(362.70 165.40)" fill="#000">
<title>แฟชั่นไอส์แลนด์</title>
<g transform="translate(-0.51 0) scale(0.05120 0.06750)">
<use href="#g36" x="0"/>
<use href="#g37" x="116"/>
<use href="#g38" x="262"/>
<use href="#g39" x="383"/>
<use href="#g40" x="382"/>
<use href="#g41" x="383"/>
<use href="#g42" x="508"/>
<use href="#g43" x="571"/>
<use href="#g44" x="690"/>
<use href="#g45" x="811"/>
<use href="#g36" x="815"/>
<use href="#g46" x="931"/>
<use href="#g41" x="1051"/>
<use href="#g47" x="1176"/>
<use href="#g45" x="1307"/>
</g>
</g>
<g transform="translate(524.60 170.00)" fill="#000">
<title>รพ.นพรัตน์</title>
<g transform="translate(-0.36 0) scale(0.05938 0.07400)">
<use href="#g48" x="0"/>
<use href="#g49" x="101"/>
<use href="#g50" x="247"/>
<use href="#g41" x="285"/>
<use href="#g49" x="410"/>
<use href="#g48" x="556"/>
<use href="#g39" x="657"/>
<use href="#g51" x="657"/>
<use href="#g41" x="789"/>
<use href="#g45" x="914"/>
</g>
</g>
<g transform="translate(596.20 301.20)" fill="#000">
<title>สวนสยาม</title>
<g transform="translate(-0.33 0) scale(0.05582 0.07200)">
<use href="#g44" x="0"/>
<use href="#g52" x="125"/>
<use href="#g41" x="228"/>
<use href="#g44" x="353"/>
<use href="#g53" x="478"/>
<use href="#g54" x="602"/>
<use href="#g55" x="691"/>
</g>
</g>
<g transform="translate(263.4 102.0) rotate(-90.0)"><g transform="translate(0.00 0.00)" fill="#000">
<title>ไปบางปะอิน</title>
<g transform="translate(0.21 0) scale(0.05215 0.06500)">
<use href="#g26" x="0"/>
<use href="#g27" x="62"/>
<use href="#g29" x="189"/>
<use href="#g17" x="316"/>
<use href="#g56" x="405"/>
<use href="#g27" x="510"/>
<use href="#g57" x="637"/>
<use href="#g19" x="702"/>
<use href="#g20" x="817"/>
<use href="#g15" x="817"/>
</g>
</g></g>
<g transform="translate(288.6 155.5) rotate(-90.0)"><g transform="translate(0.00 0.00)" fill="#000">
<title>ถนน หมู่บ้านปัญญา</title>
<g transform="translate(-0.38 0) scale(0.05450 0.06500)">
<use href="#g14" x="0"/>
<use href="#g15" x="124"/>
<use href="#g15" x="248"/>
<use href="#g58" x="416"/>
<use href="#g18" x="538"/>
<use href="#g59" x="662"/>
<use href="#g60" x="662"/>
<use href="#g29" x="662"/>
<use href="#g61" x="789"/>
<use href="#g17" x="789"/>
<use href="#g15" x="878"/>
<use href="#g27" x="1002"/>
<use href="#g62" x="1128"/>
<use href="#g63" x="1129"/>
<use href="#g63" x="1324"/>
<use href="#g17" x="1519"/>
</g>
</g></g>
<g transform="translate(79.3 337.9) rotate(-90.0)"><g transform="translate(0.00 0.00)" fill="#000">
<title>สุขาภิบาล 1</title>
<g transform="translate(-0.46 0) scale(0.05711 0.06500)">
<use href="#g64" x="0"/>
<use href="#g30" x="119"/>
<use href="#g65" x="124"/>
<use href="#g17" x="243"/>
<use href="#g66" x="332"/>
<use href="#g20" x="463"/>
<use href="#g29" x="463"/>
<use href="#g17" x="590"/>
<use href="#g67" x="679"/>
</g>
<text x="48.09" y="0.00" font-size="10.60" font-weight="bold" textLength="5.18" lengthAdjust="spacingAndGlyphs">1</text>
</g></g>
<g transform="translate(184.4 189.2) rotate(-27.5)"><g transform="translate(0.00 0.00)" fill="#000">
<title>ไป ม.ปัญญา</title>
<g transform="translate(0.22 0) scale(0.05444 0.05600)">
<use href="#g26" x="0"/>
<use href="#g27" x="62"/>
<use href="#g18" x="233"/>
<use href="#g24" x="357"/>
<use href="#g27" x="394"/>
<use href="#g62" x="520"/>
<use href="#g63" x="521"/>
<use href="#g63" x="716"/>
<use href="#g17" x="911"/>
</g>
</g></g>
<g transform="translate(337.0 188.2) rotate(-78.5)"><g transform="translate(0.00 0.00)" fill="#000">
<title>ทางเข้าห้าง</title>
<g transform="translate(-0.55 0) scale(0.05006 0.05800)">
<use href="#g21" x="0"/>
<use href="#g17" x="124"/>
<use href="#g56" x="213"/>
<use href="#g68" x="318"/>
<use href="#g65" x="380"/>
<use href="#g61" x="499"/>
<use href="#g17" x="499"/>
<use href="#g58" x="588"/>
<use href="#g61" x="710"/>
<use href="#g17" x="710"/>
<use href="#g56" x="799"/>
</g>
</g></g>
<g transform="translate(193.2 288.4) rotate(-63.4)"><g transform="translate(0.00 0.00)" fill="#000">
<title>วงแหวนรอบนอก บางนา-บางปะอิน</title>
<g transform="translate(-0.16 0) scale(0.04004 0.04750)">
<use href="#g69" x="0"/>
<use href="#g56" x="98"/>
<use href="#g70" x="203"/>
<use href="#g58" x="315"/>
<use href="#g69" x="437"/>
<use href="#g15" x="535"/>
<use href="#g16" x="659"/>
<use href="#g19" x="760"/>
<use href="#g29" x="875"/>
<use href="#g15" x="1002"/>
<use href="#g19" x="1126"/>
<use href="#g23" x="1241"/>
<use href="#g29" x="1409"/>
<use href="#g17" x="1536"/>
<use href="#g56" x="1625"/>
<use href="#g15" x="1730"/>
<use href="#g17" x="1854"/>
<use href="#g71" x="1943"/>
<use href="#g29" x="2035"/>
<use href="#g17" x="2162"/>
<use href="#g56" x="2251"/>
<use href="#g27" x="2356"/>
<use href="#g57" x="2483"/>
<use href="#g19" x="2548"/>
<use href="#g20" x="2663"/>
<use href="#g15" x="2663"/>
</g>
</g></g>
<text x="380.1" y="109.9" font-size="5.3" font-weight="bold" fill="#fff" textLength="31.6" lengthAdjust="spacingAndGlyphs">NITIPON</text>
<path d="M374 111H391M402.5 111.2H410.5" stroke="#f58bb8" stroke-width=".5" fill="none"/>
<g transform="translate(47.80 409.40)" fill="#fff">
<title>นิติพล</title>
<g transform="translate(-0.59 0) scale(0.04529 0.05200)">
<use href="#g8" x="0"/>
<use href="#g72" x="121"/>
<use href="#g73" x="121"/>
<use href="#g72" x="250"/>
<use href="#g74" x="250"/>
<use href="#g12" x="395"/>
</g>
</g>
<g transform="translate(76.00 409.40)" fill="#fff">
<title>สาขาแฟชั่นไอส์แลนด์</title>
<g transform="translate(-0.41 0) scale(0.04538 0.05200)">
<use href="#g0" x="0"/>
<use href="#g1" x="122"/>
<use href="#g2" x="210"/>
<use href="#g1" x="326"/>
<use href="#g3" x="414"/>
<use href="#g4" x="522"/>
<use href="#g5" x="667"/>
<use href="#g6" x="783"/>
<use href="#g7" x="787"/>
<use href="#g8" x="783"/>
<use href="#g9" x="904"/>
<use href="#g10" x="964"/>
<use href="#g0" x="1079"/>
<use href="#g11" x="1197"/>
<use href="#g3" x="1201"/>
<use href="#g12" x="1309"/>
<use href="#g8" x="1428"/>
<use href="#g13" x="1549"/>
<use href="#g11" x="1678"/>
</g>
</g>
<g transform="translate(155.40 409.40)" fill="#fff">
<title>:</title>
<g transform="translate(-0.70 0) scale(0.07778 0.05200)">
<use href="#g75" x="0"/>
</g>
</g>
<g transform="translate(161.40 409.40)" fill="#fff">
<title>(ชั้น 2)</title>
<g transform="translate(-0.45 0) scale(0.05046 0.05200)">
<use href="#g76" x="0"/>
<use href="#g5" x="65"/>
<use href="#g6" x="181"/>
<use href="#g77" x="185"/>
<use href="#g8" x="181"/>
</g>
<text x="17.31" y="0.00" font-size="10.50" textLength="5.67" lengthAdjust="spacingAndGlyphs">2</text>
<g transform="translate(22.97 0) scale(0.05046 0.05200)">
<use href="#g78" x="0"/>
</g>
</g>
<g transform="translate(190.20 409.40)" fill="#fff">
<title>หน้า</title>
<g transform="translate(-0.68 0) scale(0.05263 0.05200)">
<use href="#g79" x="0"/>
<use href="#g8" x="121"/>
<use href="#g80" x="242"/>
<use href="#g1" x="242"/>
</g>
</g>
<g transform="translate(210.00 409.40)" fill="#fff">
<title>Big C</title>
<text x="-0.48" y="0.00" font-size="10.50" textLength="23.56" lengthAdjust="spacingAndGlyphs">Big C</text>
</g>
<g transform="translate(243.80 409.40)" fill="#fff">
<title>โทร.</title>
<g transform="translate(0.00 0) scale(0.04744 0.05200)">
<use href="#g81" x="0"/>
<use href="#g82" x="63"/>
<use href="#g83" x="184"/>
<use href="#g84" x="285"/>
</g>
</g>
<g transform="translate(263.20 409.40)" fill="#fff">
<title>02-9475745,</title>
<text x="-0.49" y="0.00" font-size="10.50" textLength="52.44" lengthAdjust="spacingAndGlyphs">02-9475745</text>
<g transform="translate(51.95 0) scale(0.04865 0.05200)">
<use href="#g85" x="0"/>
</g>
</g>
<g transform="translate(321.70 409.40)" fill="#fff">
<title>02-9475855</title>
<text x="-0.49" y="0.00" font-size="10.50" textLength="51.87" lengthAdjust="spacingAndGlyphs">02-9475855</text>
</g>
<g transform="translate(381.00 409.40)" fill="#fff">
<title>รถเมล์สายที่วิ่งผ่าน</title>
<g transform="translate(-0.43 0) scale(0.04731 0.05200)">
<use href="#g83" x="0"/>
<use href="#g86" x="101"/>
<use href="#g87" x="224"/>
<use href="#g88" x="285"/>
<use href="#g12" x="406"/>
<use href="#g11" x="525"/>
<use href="#g0" x="525"/>
<use href="#g1" x="647"/>
<use href="#g89" x="735"/>
<use href="#g82" x="854"/>
<use href="#g90" x="975"/>
<use href="#g7" x="975"/>
<use href="#g91" x="975"/>
<use href="#g72" x="1074"/>
<use href="#g7" x="1074" y="12"/>
<use href="#g92" x="1074"/>
<use href="#g93" x="1187"/>
<use href="#g94" x="1316"/>
<use href="#g1" x="1316"/>
<use href="#g8" x="1404"/>
</g>
</g>
<g transform="translate(457.70 409.40)" fill="#fff">
<title>26, 27, 60, 71, 95, 96, 115, 501</title>
<text x="-0.50" y="0.00" font-size="10.50" textLength="138.80" lengthAdjust="spacingAndGlyphs">26, 27, 60, 71, 95, 96, 115, 501</text>
</g>
<g transform="translate(55.10 437.00)" fill="#000">
<title>หมายเหตุ</title>
<g transform="translate(-0.43 0) scale(0.04271 0.05650)">
<use href="#g95" x="0"/>
<use href="#g55" x="124"/>
<use href="#g54" x="249"/>
<use href="#g53" x="338"/>
<use href="#g96" x="462"/>
<use href="#g95" x="526"/>
<use href="#g51" x="650"/>
<use href="#g97" x="782"/>
</g>
</g>
<g transform="translate(92.20 437.00)" fill="#000">
<title>:</title>
<g transform="translate(-0.37 0) scale(0.06154 0.05650)">
<use href="#g98" x="0"/>
</g>
</g>
<g transform="translate(98.70 437.00)" fill="#000">
<title>หากมาจากทางรามอินทรา</title>
<g transform="translate(-0.38 0) scale(0.03822 0.05650)">
<use href="#g95" x="0"/>
<use href="#g54" x="124"/>
<use href="#g99" x="213"/>
<use href="#g55" x="338"/>
<use href="#g54" x="463"/>
<use href="#g100" x="552"/>
<use href="#g54" x="666"/>
<use href="#g99" x="755"/>
<use href="#g101" x="880"/>
<use href="#g54" x="1005"/>
<use href="#g102" x="1094"/>
<use href="#g48" x="1208"/>
<use href="#g54" x="1309"/>
<use href="#g55" x="1398"/>
<use href="#g43" x="1523"/>
<use href="#g103" x="1642"/>
<use href="#g41" x="1642"/>
<use href="#g101" x="1767"/>
<use href="#g48" x="1892"/>
<use href="#g54" x="1993"/>
</g>
</g>
<g transform="translate(182.20 437.00)" fill="#000">
<title>กม.</title>
<g transform="translate(-0.27 0) scale(0.04565 0.05650)">
<use href="#g99" x="0"/>
<use href="#g55" x="125"/>
<use href="#g50" x="250"/>
</g>
</g>
<g transform="translate(212.30 437.00)" fill="#000">
<title>8</title>
<text x="-0.52" y="0.00" font-size="10.60" font-weight="bold" textLength="5.73" lengthAdjust="spacingAndGlyphs">8</text>
</g>
<g transform="translate(226.50 437.00)" fill="#000">
<title>ช่วงก่อนถึงทางเข้า</title>
<g transform="translate(-0.24 0) scale(0.04027 0.05650)">
<use href="#g38" x="0"/>
<use href="#g104" x="121"/>
<use href="#g52" x="121"/>
<use href="#g102" x="224"/>
<use href="#g99" x="338"/>
<use href="#g104" x="463"/>
<use href="#g43" x="463"/>
<use href="#g41" x="582"/>
<use href="#g105" x="707"/>
<use href="#g106" x="832"/>
<use href="#g102" x="832"/>
<use href="#g101" x="946"/>
<use href="#g54" x="1071"/>
<use href="#g102" x="1160"/>
<use href="#g96" x="1274"/>
<use href="#g107" x="1338"/>
<use href="#g108" x="1459"/>
<use href="#g54" x="1459"/>
</g>
</g>
<g transform="translate(294.60 437.00)" fill="#000">
<title>ม.ปัญญา</title>
<g transform="translate(-0.43 0) scale(0.04307 0.05650)">
<use href="#g55" x="0"/>
<use href="#g50" x="125"/>
<use href="#g109" x="163"/>
<use href="#g110" x="290"/>
<use href="#g111" x="291"/>
<use href="#g111" x="486"/>
<use href="#g54" x="681"/>
</g>
</g>
<g transform="translate(332.00 437.00)" fill="#000">
<title>ให้วิ่งชิดเข้าเลนซ้ายที่เขียนว่าไปแฟชั่นฯ</title>
<g transform="translate(0.17 0) scale(0.04346 0.05650)">
<use href="#g112" x="0"/>
<use href="#g95" x="61"/>
<use href="#g108" x="185"/>
<use href="#g52" x="185"/>
<use href="#g103" x="288"/>
<use href="#g40" x="287" y="8"/>
<use href="#g102" x="288"/>
<use href="#g38" x="402"/>
<use href="#g103" x="523"/>
<use href="#g47" x="523"/>
<use href="#g96" x="654"/>
<use href="#g107" x="718"/>
<use href="#g108" x="839"/>
<use href="#g54" x="839"/>
<use href="#g96" x="928"/>
<use href="#g46" x="992"/>
<use href="#g41" x="1112"/>
<use href="#g113" x="1237"/>
<use href="#g108" x="1358"/>
<use href="#g54" x="1358"/>
<use href="#g53" x="1447"/>
<use href="#g101" x="1571"/>
<use href="#g114" x="1696"/>
<use href="#g40" x="1695"/>
<use href="#g96" x="1696"/>
<use href="#g107" x="1760"/>
<use href="#g114" x="1881"/>
<use href="#g53" x="1881"/>
<use href="#g41" x="2005"/>
<use href="#g52" x="2130"/>
<use href="#g104" x="2233"/>
<use href="#g54" x="2233"/>
<use href="#g42" x="2322"/>
<use href="#g109" x="2385"/>
<use href="#g36" x="2513"/>
<use href="#g37" x="2629"/>
<use href="#g38" x="2775"/>
<use href="#g39" x="2896"/>
<use href="#g40" x="2895"/>
<use href="#g41" x="2896"/>
<use href="#g115" x="3021"/>
</g>
</g>
<g transform="translate(471.50 437.00)" fill="#000">
<title>หากเข้าเลนกลาง</title>
<g transform="translate(-0.42 0) scale(0.04240 0.05650)">
<use href="#g95" x="0"/>
<use href="#g54" x="124"/>
<use href="#g99" x="213"/>
<use href="#g96" x="338"/>
<use href="#g107" x="402"/>
<use href="#g108" x="523"/>
<use href="#g54" x="523"/>
<use href="#g96" x="612"/>
<use href="#g46" x="676"/>
<use href="#g41" x="796"/>
<use href="#g99" x="921"/>
<use href="#g46" x="1046"/>
<use href="#g54" x="1166"/>
<use href="#g102" x="1255"/>
</g>
</g>
<g transform="translate(533.00 437.00)" fill="#000">
<title>จะเลยทางเข้าห้าง</title>
<g transform="translate(-0.22 0) scale(0.04311 0.05650)">
<use href="#g100" x="0"/>
<use href="#g116" x="114"/>
<use href="#g96" x="179"/>
<use href="#g46" x="243"/>
<use href="#g53" x="363"/>
<use href="#g101" x="487"/>
<use href="#g54" x="612"/>
<use href="#g102" x="701"/>
<use href="#g96" x="815"/>
<use href="#g107" x="879"/>
<use href="#g108" x="1000"/>
<use href="#g54" x="1000"/>
<use href="#g95" x="1089"/>
<use href="#g108" x="1213"/>
<use href="#g54" x="1213"/>
<use href="#g102" x="1302"/>
</g>
</g>
</g>
</svg>
</body></html>
